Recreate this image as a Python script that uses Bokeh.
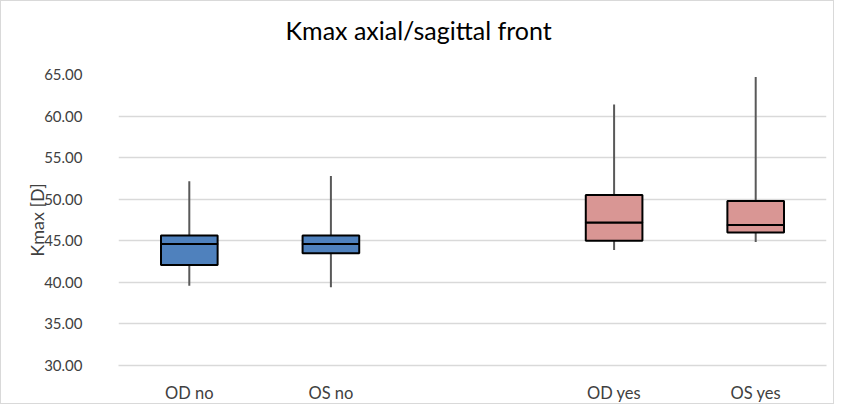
from bokeh.plotting import figure
from bokeh.models import FactorRange, Range1d, FixedTicker, NumeralTickFormatter, ColumnDataSource
from bokeh.embed import file_html
from bokeh.resources import INLINE

categories = ["OD no", "OS no", " ", "OD yes", "OS yes"]
groups = ["OD no", "OS no", "OD yes", "OS yes"]
whisker_low = [39.6, 39.4, 43.9, 44.85]
q1 = [42.1, 43.5, 45.0, 46.0]
median = [44.6, 44.6, 47.2, 46.9]
q3 = [45.65, 45.65, 50.5, 49.8]
whisker_high = [52.15, 52.8, 61.4, 64.7]
fill_colors = ["#4f81bd", "#4f81bd", "#d99694", "#d99694"]
y_ticks = [30, 35, 40, 45, 50, 55, 60, 65]
title_text = "Kmax axial/sagittal front"

FONT = "Lato"

p = figure(
    width=834, height=404,
    x_range=FactorRange(factors=categories),
    y_range=Range1d(30, 65),
    output_backend="svg", toolbar_location=None,
    min_border_left=117, min_border_right=9,
    min_border_top=73, min_border_bottom=36,
    title=title_text + "\n ",
)
p.styles = {"border": "1px solid #d9d9d9"}
p.outline_line_color = None

p.title.align = "left"
p.title.offset = 167
p.title.text_font = FONT
p.title.text_font_style = "normal"
p.title.text_font_size = "25px"
p.title.text_color = "#000000"
p.title.standoff = 0

src = ColumnDataSource(dict(
    x=groups, lo=whisker_low, q1=q1, med=median, q3=q3, hi=whisker_high, c=fill_colors,
))

p.segment(x0="x", y0="q3", x1="x", y1="hi", source=src, line_color="#595959", line_width=2)
p.segment(x0="x", y0="lo", x1="x", y1="q1", source=src, line_color="#595959", line_width=2)
p.vbar(x="x", bottom="q1", top="med", width=0.4, source=src, fill_color="c",
       line_color="#000000", line_width=2)
p.vbar(x="x", bottom="med", top="q3", width=0.4, source=src, fill_color="c",
       line_color="#000000", line_width=2)

p.xgrid.grid_line_color = None
p.ygrid.grid_line_color = "#d9d9d9"
p.ygrid.grid_line_width = 1.5
p.ygrid.ticker = FixedTicker(ticks=y_ticks)

p.yaxis.ticker = FixedTicker(ticks=y_ticks)
p.yaxis.formatter = NumeralTickFormatter(format="0.00")
p.yaxis.axis_line_color = None
p.yaxis.major_tick_line_color = None
p.yaxis.minor_tick_line_color = None
p.yaxis.major_label_standoff = 30
p.yaxis.major_label_text_font = FONT
p.yaxis.major_label_text_font_size = "15px"
p.yaxis.major_label_text_color = "#404040"
p.yaxis.axis_label = "Kmax [D]"
p.yaxis.axis_label_text_font = FONT
p.yaxis.axis_label_text_font_style = "normal"
p.yaxis.axis_label_text_font_size = "18px"
p.yaxis.axis_label_text_color = "#404040"
p.yaxis.axis_label_standoff = -7

p.xaxis.axis_line_color = "#d9d9d9"
p.xaxis.axis_line_width = 1.5
p.xaxis.major_tick_line_color = None
p.xaxis.minor_tick_line_color = None
p.xaxis.major_label_standoff = 11
p.xaxis.major_label_text_font = FONT
p.xaxis.major_label_text_font_size = "16.5px"
p.xaxis.major_label_text_color = "#404040"

open("out.html", "w").write(file_html(p, INLINE))
